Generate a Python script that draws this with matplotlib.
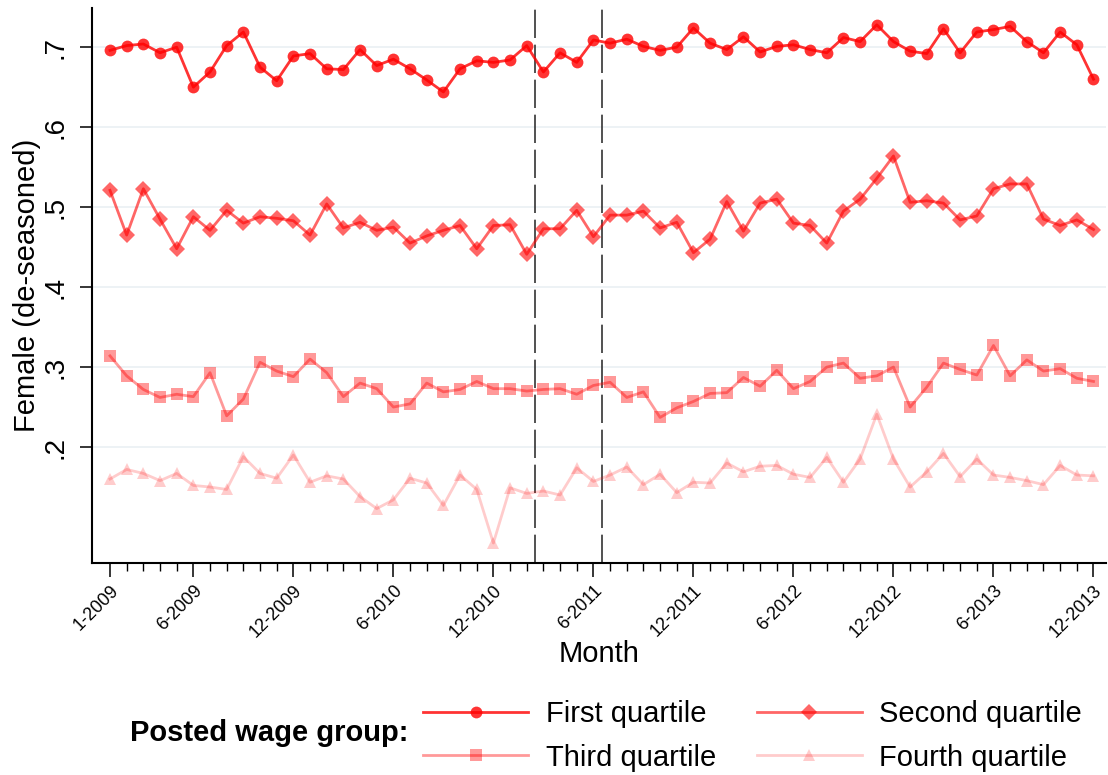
import matplotlib
matplotlib.use("Agg")
import matplotlib.pyplot as plt
import numpy as np

plt.rcParams['font.family'] = ['Liberation Sans', 'DejaVu Sans']

# ---- data ----
months = list(range(60))  # 1-2009 ... 12-2013
tick_pos = [0, 5, 11, 17, 23, 29, 35, 41, 47, 53, 59]
tick_labels = ["1-2009", "6-2009", "12-2009", "6-2010", "12-2010", "6-2011",
               "12-2011", "6-2012", "12-2012", "6-2013", "12-2013"]
event_lines = [25.5, 29.5]

first_q = [0.696, 0.702, 0.704, 0.693, 0.700, 0.650, 0.669, 0.702, 0.719, 0.675,
           0.658, 0.689, 0.692, 0.673, 0.672, 0.697, 0.677, 0.685, 0.673, 0.659,
           0.644, 0.673, 0.683, 0.681, 0.684, 0.702, 0.669, 0.693, 0.681, 0.709,
           0.705, 0.710, 0.701, 0.696, 0.700, 0.724, 0.705, 0.697, 0.713, 0.694,
           0.701, 0.703, 0.697, 0.693, 0.712, 0.707, 0.728, 0.707, 0.695, 0.692,
           0.723, 0.693, 0.719, 0.722, 0.726, 0.707, 0.693, 0.719, 0.703, 0.660]
second_q = [0.521, 0.465, 0.523, 0.485, 0.448, 0.488, 0.471, 0.496, 0.480, 0.488,
            0.486, 0.483, 0.465, 0.504, 0.474, 0.481, 0.471, 0.475, 0.455, 0.464,
            0.471, 0.477, 0.448, 0.477, 0.478, 0.441, 0.473, 0.473, 0.496, 0.463,
            0.490, 0.490, 0.495, 0.474, 0.481, 0.443, 0.460, 0.507, 0.470, 0.505,
            0.510, 0.480, 0.477, 0.455, 0.495, 0.510, 0.536, 0.564, 0.506, 0.508,
            0.505, 0.484, 0.489, 0.523, 0.529, 0.529, 0.485, 0.477, 0.484, 0.472]
third_q = [0.314, 0.289, 0.272, 0.262, 0.266, 0.263, 0.293, 0.239, 0.260, 0.306,
           0.295, 0.288, 0.310, 0.293, 0.263, 0.280, 0.273, 0.250, 0.254, 0.280,
           0.269, 0.272, 0.282, 0.273, 0.273, 0.270, 0.272, 0.273, 0.266, 0.277,
           0.281, 0.262, 0.269, 0.237, 0.249, 0.257, 0.267, 0.268, 0.287, 0.276,
           0.296, 0.273, 0.282, 0.300, 0.305, 0.286, 0.289, 0.300, 0.250, 0.275,
           0.305, 0.297, 0.290, 0.327, 0.289, 0.309, 0.295, 0.298, 0.286, 0.282]
fourth_q = [0.160, 0.172, 0.167, 0.158, 0.167, 0.152, 0.150, 0.147, 0.188, 0.167,
            0.161, 0.190, 0.156, 0.164, 0.160, 0.138, 0.123, 0.134, 0.161, 0.155,
            0.127, 0.165, 0.147, 0.080, 0.149, 0.142, 0.145, 0.140, 0.174, 0.157,
            0.165, 0.175, 0.153, 0.166, 0.143, 0.156, 0.155, 0.180, 0.169, 0.176,
            0.177, 0.166, 0.162, 0.187, 0.156, 0.185, 0.241, 0.185, 0.150, 0.169,
            0.192, 0.163, 0.185, 0.165, 0.162, 0.158, 0.153, 0.177, 0.165, 0.164]

series_names = ["First quartile", "Second quartile", "Third quartile", "Fourth quartile"]
series_vals = [first_q, second_q, third_q, fourth_q]
markers = ["o", "D", "s", "^"]
msizes = [8.5, 8, 8, 9]
alphas = [0.8, 0.6, 0.4, 0.2]

fig = plt.figure(figsize=(11.08, 7.75), dpi=100)
ax = fig.add_axes([92/1108, 1-563/775, (1106-92)/1108, (563-8)/775])

handles = []
for name, vals, mk, ms, a in zip(series_names, series_vals, markers, msizes, alphas):
    h, = ax.plot(months, vals, color='red', alpha=a, lw=2.0, marker=mk,
                 markersize=ms, markeredgewidth=0, label=name, zorder=3)
    handles.append(h)

for xv in event_lines:
    ax.axvline(xv, color='#333333', lw=1.2, dashes=(17, 4), zorder=2)

ax.set_xlim(-1.08, 59.75)
ax.set_ylim(0.055, 0.749)

ax.set_yticks([0.2, 0.3, 0.4, 0.5, 0.6, 0.7])
ax.set_yticklabels([".2", ".3", ".4", ".5", ".6", ".7"], rotation=90, va='center',
                   fontsize=20)
ax.yaxis.grid(True, color='#EAF0F3', lw=1.2, zorder=0)
ax.set_axisbelow(True)

ax.set_xticks(tick_pos)
ax.set_xticklabels(tick_labels, rotation=45, ha='right', rotation_mode='anchor',
                   fontsize=13)
ax.set_xticks(months, minor=True)
ax.tick_params(axis='x', which='major', length=10, width=1.1, pad=4)
ax.tick_params(axis='x', which='minor', length=6, width=1.0)
ax.tick_params(axis='y', which='major', length=9, width=1.1, pad=8)

for s in ['top', 'right']:
    ax.spines[s].set_visible(False)
for s in ['left', 'bottom']:
    ax.spines[s].set_linewidth(1.5)

ax.set_xlabel("Month", fontsize=21)
ax.xaxis.set_label_coords(0.5, -(654-563)/555)
ax.xaxis.label.set_va('center')
ax.set_ylabel("Female (de-seasoned)", fontsize=21)
ax.yaxis.set_label_coords((27-92)/1014, 0.5)
ax.yaxis.label.set_va('center')

order = [handles[0], handles[2], handles[1], handles[3]]
leg = fig.legend(order, [h.get_label() for h in order], ncol=2, frameon=False,
                 loc='center left', bbox_to_anchor=(397/1108, 1-736/775),
                 fontsize=21, handlelength=3.6, handletextpad=0.6,
                 columnspacing=1.4, labelspacing=0.52)
fig.text(130/1108, 1-733/775, "Posted wage group:", fontsize=21,
         fontweight='bold', va='center', ha='left')

fig.savefig("out.png", dpi=100)
